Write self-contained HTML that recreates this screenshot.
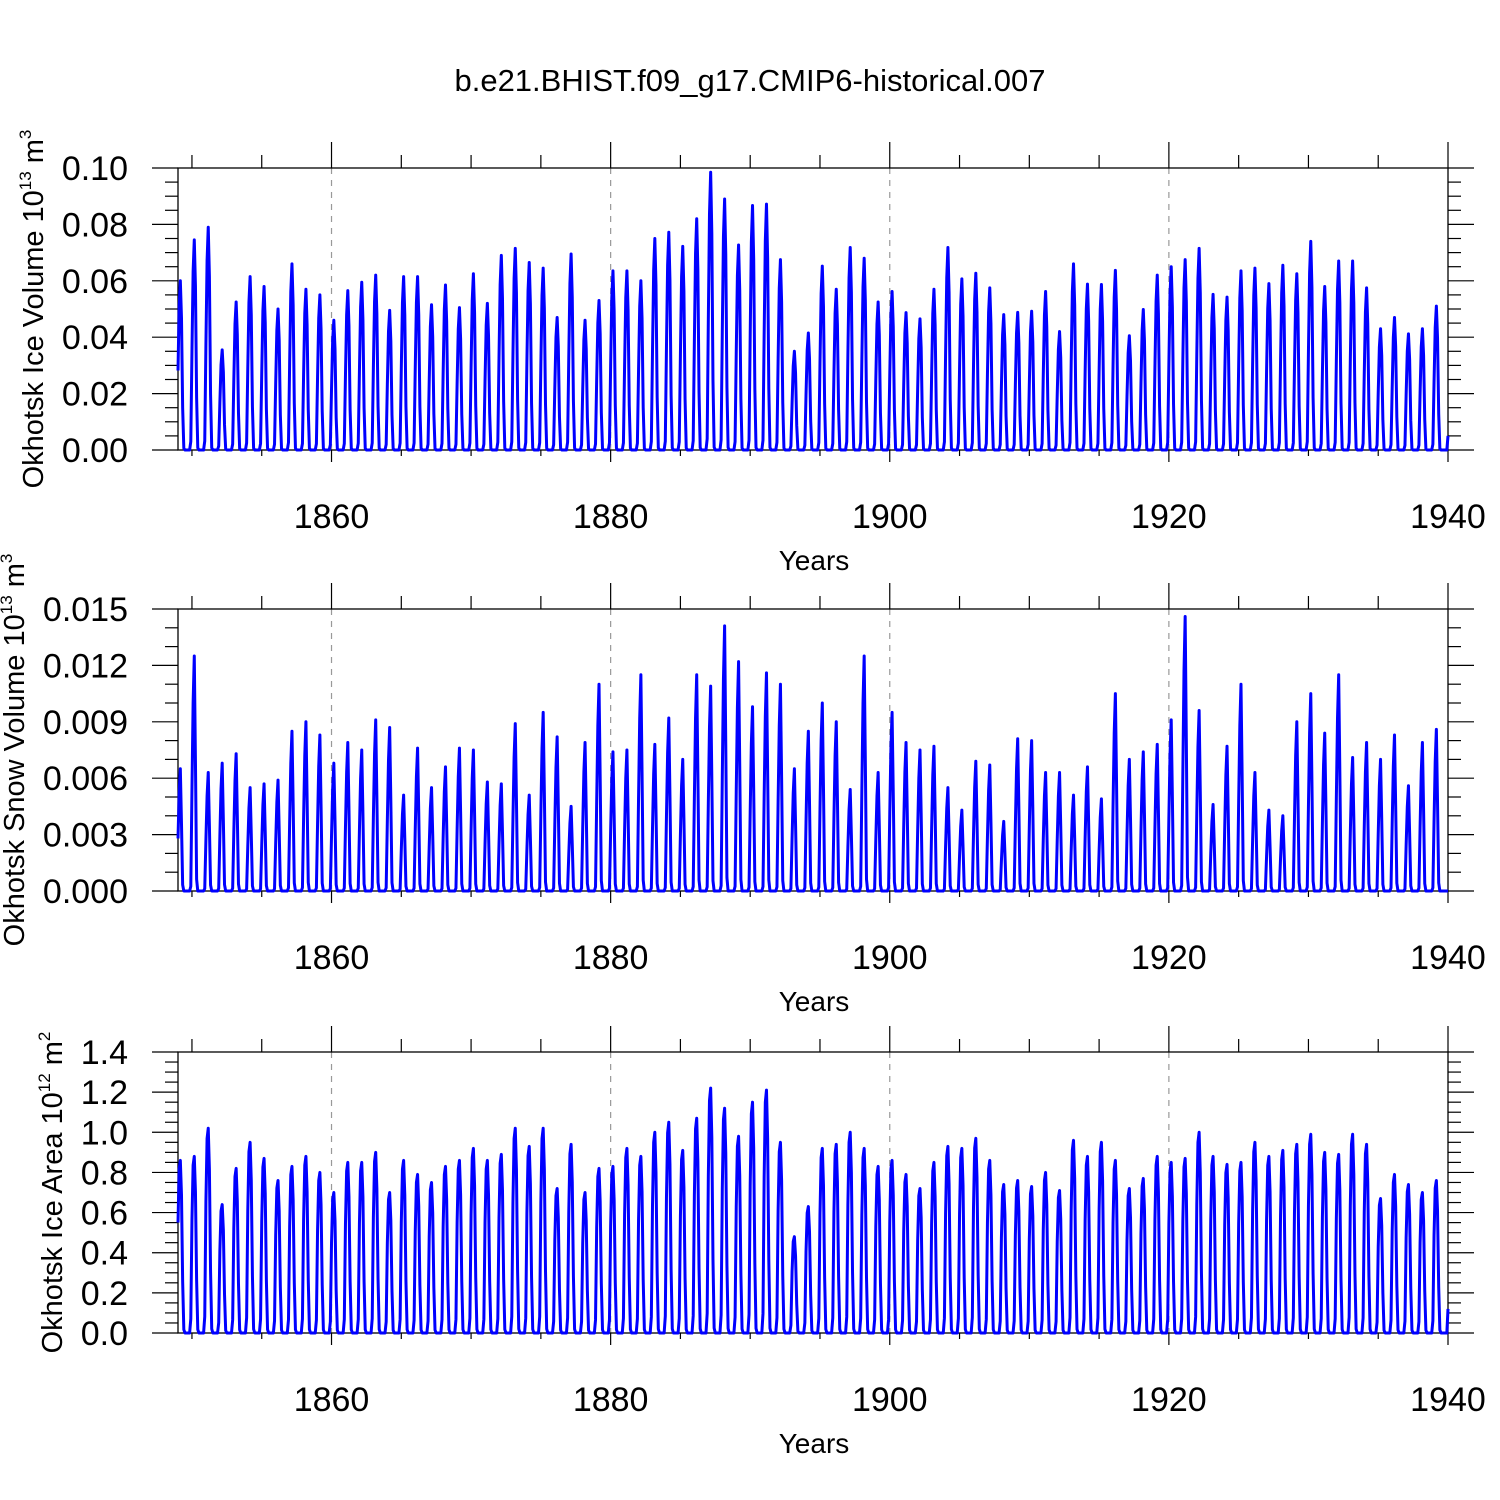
<!DOCTYPE html>
<html><head><meta charset="utf-8"><style>
html,body{margin:0;padding:0;background:#fff}
svg{display:block}
text{font-family:"Liberation Sans",Arial,sans-serif;fill:#000}
</style></head><body>
<svg id="chart" width="1500" height="1500" viewBox="0 0 1500 1500">
<text x="750" y="91" font-size="31" text-anchor="middle">b.e21.BHIST.f09_g17.CMIP6-historical.007</text>
</svg>
<script>
// Annual peak values 1849..1939
const years = Array.from({length:91},(_,i)=>1849+i);
const icePeaks = [0.060,0.0745,0.079,0.0355,0.0525,0.0615,0.058,0.050,0.066,0.057,0.055,0.046,0.0565,0.0595,0.062,0.0495,0.0615,0.0615,0.0515,0.0585,0.0505,0.0625,0.052,0.069,0.0715,0.0665,0.0645,0.047,0.0695,0.046,0.053,0.0635,0.0635,0.060,0.075,0.0772,0.0722,0.082,0.0985,0.089,0.0727,0.0867,0.0872,0.0675,0.035,0.0415,0.0652,0.057,0.0718,0.068,0.0525,0.0562,0.0487,0.0465,0.057,0.0718,0.0607,0.0627,0.0575,0.048,0.0488,0.0492,0.0562,0.042,0.066,0.0588,0.0587,0.0637,0.0405,0.0498,0.062,0.065,0.0675,0.0715,0.0552,0.0542,0.0635,0.0645,0.059,0.0655,0.0625,0.074,0.058,0.067,0.067,0.0575,0.043,0.047,0.0412,0.043,0.051];
const snowPeaks = [0.0065,0.0125,0.0063,0.0068,0.0073,0.0055,0.0057,0.0059,0.0085,0.0090,0.0083,0.0068,0.0079,0.0075,0.0091,0.0087,0.0051,0.0076,0.0055,0.0066,0.0076,0.0075,0.0058,0.0057,0.0089,0.0051,0.0095,0.0082,0.0045,0.0079,0.0110,0.0074,0.0075,0.0115,0.0078,0.0092,0.0070,0.0115,0.0109,0.0141,0.0122,0.0098,0.0116,0.0110,0.0065,0.0085,0.0100,0.0090,0.0054,0.0125,0.0063,0.0095,0.0079,0.0075,0.0077,0.0055,0.0043,0.0069,0.0067,0.0037,0.0081,0.0080,0.0063,0.0063,0.0051,0.0066,0.0049,0.0105,0.0070,0.0074,0.0078,0.0091,0.0146,0.0096,0.0046,0.0077,0.0110,0.0063,0.0043,0.0040,0.0090,0.0105,0.0084,0.0115,0.0071,0.0079,0.0070,0.0083,0.0056,0.0079,0.0086];
const areaPeaks = [0.86,0.88,1.02,0.64,0.82,0.95,0.87,0.76,0.83,0.88,0.80,0.70,0.85,0.85,0.90,0.70,0.86,0.79,0.75,0.83,0.86,0.92,0.86,0.89,1.02,0.93,1.02,0.72,0.94,0.70,0.82,0.83,0.92,0.88,1.00,1.05,0.91,1.07,1.22,1.12,0.98,1.15,1.21,0.95,0.48,0.63,0.92,0.94,1.00,0.92,0.83,0.86,0.79,0.72,0.85,0.93,0.92,0.97,0.86,0.74,0.76,0.73,0.80,0.71,0.96,0.88,0.95,0.86,0.72,0.77,0.88,0.85,0.87,1.00,0.88,0.84,0.85,0.95,0.88,0.91,0.94,0.99,0.90,0.89,0.99,0.94,0.67,0.79,0.74,0.70,0.76];
const finalJan = [0.005, 0.0, 0.12];
const iceTicks = ["0.00","0.02","0.04","0.06","0.08","0.10"];
const snowTicks = ["0.000","0.003","0.006","0.009","0.012","0.015"];
const areaTicks = ["0.0","0.2","0.4","0.6","0.8","1.0","1.2","1.4"];
const xTickYears = [1860,1880,1900,1920,1940];

const NS="http://www.w3.org/2000/svg";
const svg=document.getElementById('chart');
function el(tag,attrs,parent){const e=document.createElementNS(NS,tag);for(const k in attrs)e.setAttribute(k,attrs[k]);(parent||svg).appendChild(e);return e;}
const X0=178,X1=1448,T0=1849,T1=1940;
const xs=t=>X0+(t-T0)*(X1-X0)/(T1-T0);

const panels=[
 {name:'ice-volume',top:168,bot:450,max:0.10,ticks:iceTicks,step:0.02,minor:0.005,peaks:icePeaks,fin:finalJan[0],
  tmpl:[0.47,0.85,1.0,0.78,0.25,0.01,0,0,0,0,0,0.04],title:['Okhotsk Ice Volume 10','13',' m','3'],tx:43},
 {name:'snow-volume',top:609,bot:891,max:0.015,ticks:snowTicks,step:0.003,minor:0.001,peaks:snowPeaks,fin:finalJan[1],
  tmpl:[0.43,0.8,1.0,0.55,0.05,0,0,0,0,0,0,0.02],title:['Okhotsk Snow Volume 10','13',' m','3'],tx:24},
 {name:'ice-area',top:1052,bot:1333,max:1.4,ticks:areaTicks,step:0.2,minor:0.05,peaks:areaPeaks,fin:finalJan[2],
  tmpl:[0.64,0.95,1.0,0.8,0.3,0.02,0,0,0,0,0,0.08],title:['Okhotsk Ice Area 10','12',' m','2'],tx:62}
];

panels.forEach((p,pi)=>{
  const g=el('g',{});
  
  
  const ys=v=>p.bot-(v/p.max)*(p.bot-p.top);
  [1860,1880,1900,1920].forEach(yr=>{
    const l=el('line',{x1:xs(yr),x2:xs(yr),y1:p.top,y2:p.bot,stroke:'#999','stroke-width':1.2,'stroke-dasharray':'6,6'},g);
    
    
  });
  const fr=el('rect',{x:X0,y:p.top,width:X1-X0,height:p.bot-p.top,fill:'none',stroke:'#000','stroke-width':1.3},g);
  
  
  for(let yr=1850;yr<=1940;yr+=5){
    const major=yr%20===0; const len=major?26:13;
    el('line',{x1:xs(yr),x2:xs(yr),y1:p.top,y2:p.top-len,stroke:'#000','stroke-width':1.2},g);
    el('line',{x1:xs(yr),x2:xs(yr),y1:p.bot,y2:p.bot+(major?12:6),stroke:'#000','stroke-width':1.2},g);
  }
  xTickYears.forEach(yr=>{
    const t=el('text',{x:xs(yr),y:p.bot+78,'font-size':34,'text-anchor':'middle'},g);
    t.textContent=String(yr);
    
    
  });
  const xt=el('text',{x:814,y:p.bot+120,'font-size':28,'text-anchor':'middle'},g);
  xt.textContent='Years';
  
  
  const nMin=Math.round(p.max/p.minor);
  for(let k=0;k<=nMin;k++){
    const v=k*p.minor; const y=ys(v);
    const major=Math.abs(v/p.step-Math.round(v/p.step))<1e-6; const len=major?26:13;
    el('line',{x1:X0,x2:X0-len,y1:y,y2:y,stroke:'#000','stroke-width':1.2},g);
    el('line',{x1:X1,x2:X1+len,y1:y,y2:y,stroke:'#000','stroke-width':1.2},g);
  }
  p.ticks.forEach((lab,k)=>{
    const t=el('text',{x:128,y:ys(k*p.step)+12,'font-size':34,'text-anchor':'end'},g);
    t.textContent=lab;
    
    
  });
  const cy=(p.top+p.bot)/2;
  const yt=el('text',{x:p.tx,y:cy,'font-size':29,'text-anchor':'middle',transform:`rotate(-90 ${p.tx} ${cy})`},g);
  
  
  p.title.forEach((s,i)=>{
    const ts=el('tspan',i%2? {'font-size':17,dy:-12}:(i?{'font-size':29,dy:12}:{'font-size':29}),yt);
    ts.textContent=s;
  });
  const pts=[];
  p.peaks.forEach((pk,i)=>{
    for(let m=0;m<12;m++){
      let v;
      if(m===11){const nx=i+1<p.peaks.length?p.peaks[i+1]:0;v=p.tmpl[11]*nx;}
      else v=p.tmpl[m]*pk;
      pts.push([xs(years[i]+m/12),ys(v)]);
    }
  });
  pts.push([xs(T1),ys(p.fin)]);
  const path=el('polyline',{points:pts.map(q=>q[0].toFixed(2)+','+q[1].toFixed(2)).join(' '),fill:'none',stroke:'#0000ff','stroke-width':3,'stroke-linejoin':'round'},g);
  
  
});
</script>
</body></html>
